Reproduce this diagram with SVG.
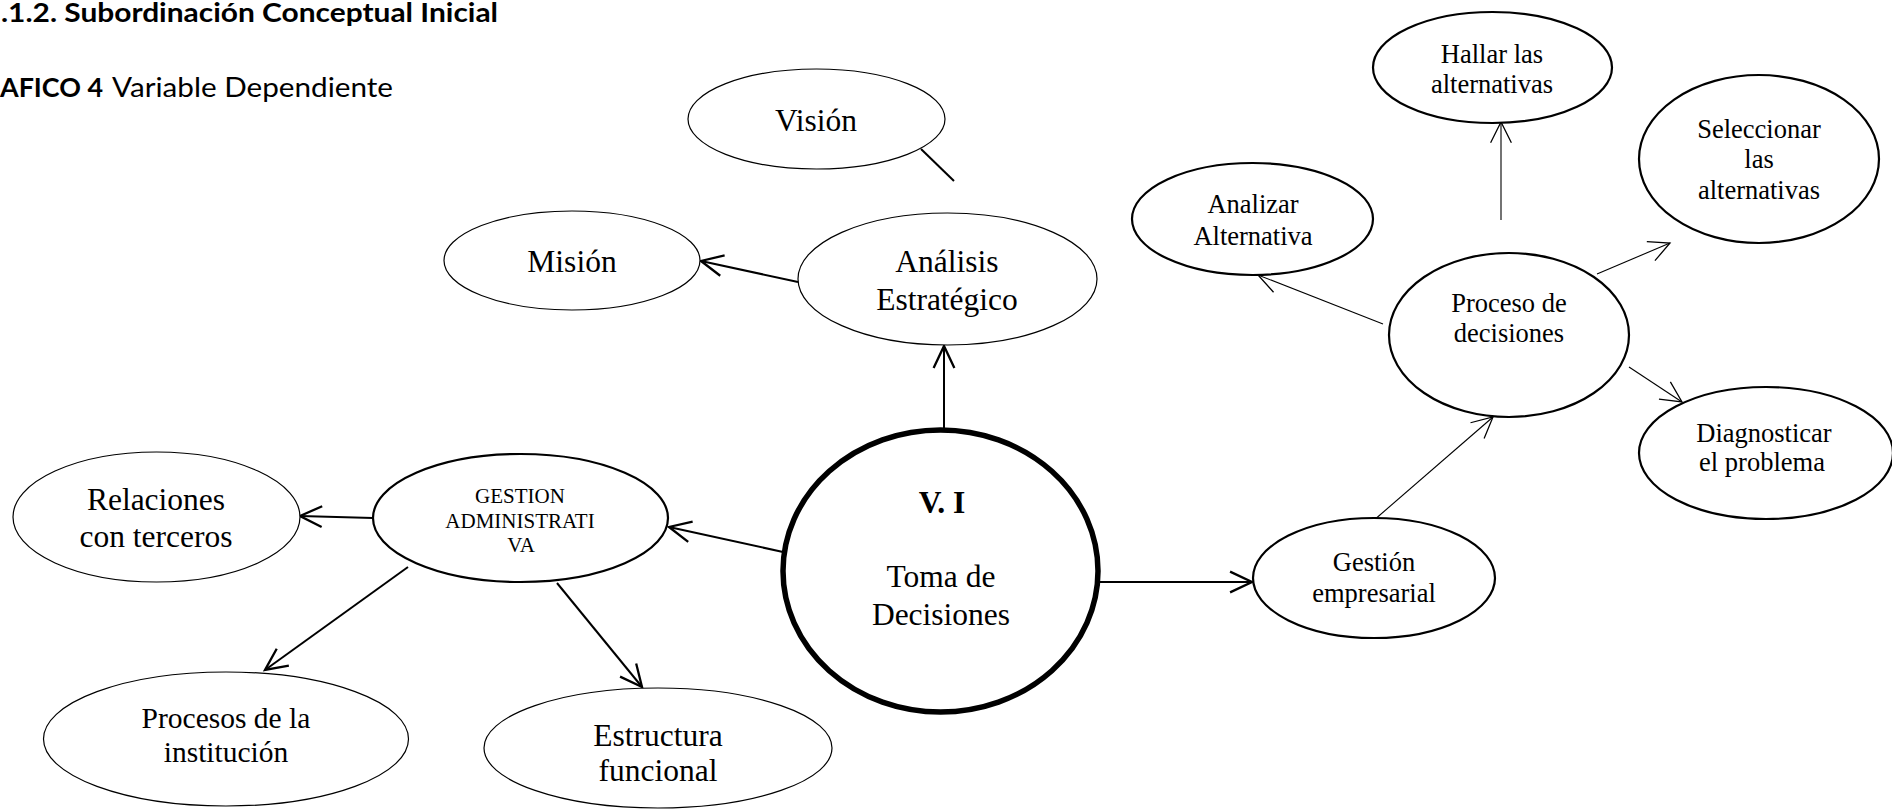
<svg xmlns="http://www.w3.org/2000/svg" width="1892" height="809" viewBox="0 0 1892 809">
  <style>
    .bg { fill: #ffffff; }
    .node { fill: #ffffff; stroke: #000000; }
    .thin { stroke-width: 1.2; }
    .mid { stroke-width: 2.2; }
    .heavy { stroke-width: 5.5; }
    .lbl { font-family: "Liberation Serif", "Times New Roman", serif; fill: #000000; text-anchor: middle; }
    .big { font-size: 31.5px; }
    .small { font-size: 26.5px; }
    .caps { font-size: 21px; }
    .head { font-family: Lato, "Open Sans", "Liberation Sans", sans-serif; fill: #000000; font-size: 27px; }
    .link { fill: none; stroke: #000000; }
    .w2 { stroke-width: 2; }
    .w1 { stroke-width: 1.1; }
  </style>
  <defs>
    <marker id="arrowBold" markerUnits="userSpaceOnUse" markerWidth="30" markerHeight="30" viewBox="-24 -12 26 24" refX="0" refY="0" orient="auto" overflow="visible">
      <path d="M-19,-9 L0,0 L-19,9" fill="none" stroke="#000000" stroke-width="2"/>
    </marker>
    <marker id="arrowThin" markerUnits="userSpaceOnUse" markerWidth="30" markerHeight="30" viewBox="-24 -12 26 24" refX="0" refY="0" orient="auto" overflow="visible">
      <path d="M-18,-9 L0,0 L-18,9" fill="none" stroke="#000000" stroke-width="1.1"/>
    </marker>
  </defs>

  <rect class="bg" x="0" y="0" width="1892" height="809"/>

  <!-- headings -->
  <text class="head" x="1" y="22" font-weight="bold" textLength="497" lengthAdjust="spacingAndGlyphs">.1.2. Subordinación Conceptual Inicial</text>
  <text class="head" y="97"><tspan x="0" font-weight="bold" textLength="103" lengthAdjust="spacingAndGlyphs">AFICO 4</tspan><tspan x="112" textLength="281" lengthAdjust="spacingAndGlyphs">Variable Dependiente</tspan></text>

  <!-- connectors -->
  <g id="connectors">
    <line class="link w2" x1="921" y1="149" x2="954" y2="181"/>
    <line class="link w2" x1="798" y1="282" x2="701" y2="261" marker-end="url(#arrowBold)"/>
    <line class="link w2" x1="944" y1="430" x2="944" y2="346" marker-end="url(#arrowBold)"/>
    <line class="link w2" x1="783" y1="552" x2="669" y2="527" marker-end="url(#arrowBold)"/>
    <line class="link w2" x1="373" y1="518" x2="300" y2="516" marker-end="url(#arrowBold)"/>
    <line class="link w2" x1="408" y1="567" x2="265" y2="670" marker-end="url(#arrowBold)"/>
    <line class="link w2" x1="557" y1="583" x2="642" y2="687" marker-end="url(#arrowBold)"/>
    <line class="link w2" x1="1098" y1="582" x2="1252" y2="582" marker-end="url(#arrowBold)"/>
    <line class="link w1" x1="1373" y1="521" x2="1493" y2="417" marker-end="url(#arrowThin)"/>
    <line class="link w1" x1="1383" y1="324" x2="1258" y2="275" marker-end="url(#arrowThin)"/>
    <line class="link w1" x1="1501" y1="220" x2="1501" y2="122" marker-end="url(#arrowThin)"/>
    <line class="link w1" x1="1597" y1="274" x2="1670" y2="243" marker-end="url(#arrowThin)"/>
    <line class="link w1" x1="1629" y1="367" x2="1682" y2="402" marker-end="url(#arrowThin)"/>
  </g>

  <!-- nodes -->
  <g id="vision">
    <ellipse class="node thin" cx="816.5" cy="119" rx="128.5" ry="50"/>
    <text class="lbl big" x="816" y="131">Visión</text>
  </g>
  <g id="mision">
    <ellipse class="node thin" cx="572" cy="260.5" rx="128" ry="49.5"/>
    <text class="lbl big" x="572" y="272">Misión</text>
  </g>
  <g id="analisis">
    <ellipse class="node thin" cx="947.5" cy="279" rx="149.5" ry="66"/>
    <text class="lbl big" x="947" y="272">Análisis</text>
    <text class="lbl big" x="947" y="310">Estratégico</text>
  </g>
  <g id="vi">
    <ellipse class="node heavy" cx="940.5" cy="571" rx="157.5" ry="141"/>
    <text class="lbl big" x="942" y="513" font-weight="bold">V. I</text>
    <text class="lbl big" x="941" y="587">Toma de</text>
    <text class="lbl big" x="941" y="625">Decisiones</text>
  </g>
  <g id="gestion-admin">
    <ellipse class="node mid" cx="520.5" cy="518" rx="147.5" ry="64"/>
    <text class="lbl caps" x="520" y="503">GESTION</text>
    <text class="lbl caps" x="520" y="528">ADMINISTRATI</text>
    <text class="lbl caps" x="521" y="552">VA</text>
  </g>
  <g id="relaciones">
    <ellipse class="node thin" cx="156.5" cy="517" rx="143.5" ry="65"/>
    <text class="lbl big" x="156" y="510">Relaciones</text>
    <text class="lbl big" x="156" y="547">con terceros</text>
  </g>
  <g id="procesos">
    <ellipse class="node thin" cx="226" cy="739" rx="182.5" ry="67"/>
    <text class="lbl" x="226" y="728" font-size="29.5">Procesos de la</text>
    <text class="lbl" x="226" y="762" font-size="29.5">institución</text>
  </g>
  <g id="estructura">
    <ellipse class="node thin" cx="658" cy="748" rx="174" ry="60"/>
    <text class="lbl big" x="658" y="746">Estructura</text>
    <text class="lbl big" x="658" y="781">funcional</text>
  </g>
  <g id="gestion-empresarial">
    <ellipse class="node mid" cx="1374" cy="578" rx="121" ry="60"/>
    <text class="lbl small" x="1374" y="571">Gestión</text>
    <text class="lbl small" x="1374" y="602">empresarial</text>
  </g>
  <g id="proceso">
    <ellipse class="node mid" cx="1509" cy="335" rx="120" ry="82"/>
    <text class="lbl small" x="1509" y="312">Proceso de</text>
    <text class="lbl small" x="1509" y="342">decisiones</text>
  </g>
  <g id="analizar">
    <ellipse class="node mid" cx="1252.5" cy="219" rx="120.5" ry="56"/>
    <text class="lbl small" x="1253" y="213">Analizar</text>
    <text class="lbl small" x="1253" y="245">Alternativa</text>
  </g>
  <g id="hallar">
    <ellipse class="node mid" cx="1492.5" cy="67.5" rx="119.5" ry="55.5"/>
    <text class="lbl small" x="1492" y="63">Hallar las</text>
    <text class="lbl small" x="1492" y="93">alternativas</text>
  </g>
  <g id="seleccionar">
    <ellipse class="node mid" cx="1759" cy="159" rx="120" ry="84"/>
    <text class="lbl small" x="1759" y="138">Seleccionar</text>
    <text class="lbl small" x="1759" y="168">las</text>
    <text class="lbl small" x="1759" y="199">alternativas</text>
  </g>
  <g id="diagnosticar">
    <ellipse class="node mid" cx="1766" cy="453" rx="127" ry="66"/>
    <text class="lbl small" x="1764" y="442">Diagnosticar</text>
    <text class="lbl small" x="1762" y="471">el problema</text>
  </g>
</svg>
